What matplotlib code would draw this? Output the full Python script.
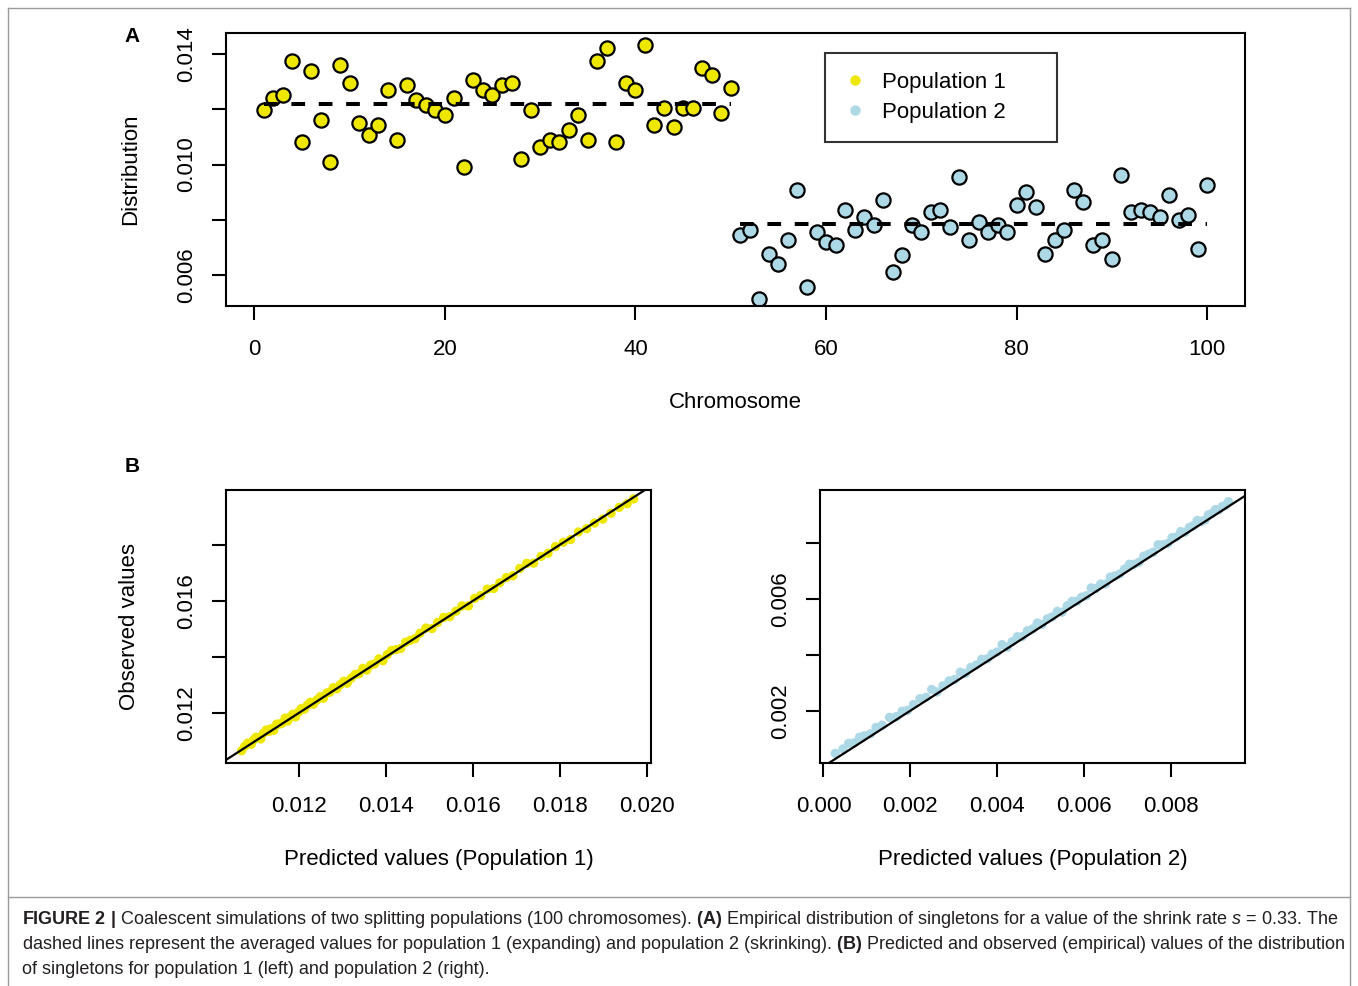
import numpy as np
import matplotlib.pyplot as plt
from matplotlib.lines import Line2D

plt.rcParams['font.family'] = ['Liberation Sans', 'DejaVu Sans']
plt.rcParams['mathtext.fontset'] = 'custom'
plt.rcParams['mathtext.rm'] = 'Liberation Sans'
plt.rcParams['mathtext.bf'] = 'Liberation Sans:bold'
plt.rcParams['mathtext.it'] = 'Liberation Sans:italic'

# --- panel A: singleton distribution per chromosome ---
chrom_pop1 = list(range(1, 51))
chrom_pop2 = list(range(51, 101))
dist_pop1 = [0.01197, 0.01240, 0.01252, 0.01376, 0.01080, 0.01340, 0.01161, 0.01008, 0.01359, 0.01296,
             0.01151, 0.01107, 0.01143, 0.01268, 0.01090, 0.01288, 0.01233, 0.01214, 0.01196, 0.01179,
             0.01242, 0.00991, 0.01305, 0.01268, 0.01252, 0.01288, 0.01296, 0.01019, 0.01197, 0.01062,
             0.01089, 0.01080, 0.01125, 0.01179, 0.01090, 0.01376, 0.01422, 0.01080, 0.01296, 0.01268,
             0.01431, 0.01143, 0.01206, 0.01135, 0.01206, 0.01206, 0.01351, 0.01323, 0.01188, 0.01278]
dist_pop2 = [0.007455, 0.007636, 0.005139, 0.006752, 0.006388, 0.007273, 0.009079, 0.005576, 0.007552, 0.007200,
             0.007091, 0.008352, 0.007636, 0.008109, 0.007818, 0.008715, 0.006120, 0.006727, 0.007818, 0.007552,
             0.008267, 0.008352, 0.007721, 0.009539, 0.007273, 0.007927, 0.007552, 0.007818, 0.007552, 0.008545,
             0.008994, 0.008448, 0.006752, 0.007273, 0.007636, 0.009079, 0.008630, 0.007091, 0.007273, 0.006570,
             0.009636, 0.008267, 0.008352, 0.008267, 0.008085, 0.008897, 0.008000, 0.008182, 0.006933, 0.009261]
mean_pop1 = 0.01219
mean_pop2 = 0.00784

# --- panel B: predicted vs observed ---
pred_pop1 = [0.01068, 0.01075, 0.01082, 0.01090, 0.01095, 0.01101, 0.01108, 0.01112, 0.01118, 0.01125,
             0.01131, 0.01137, 0.01142, 0.01149, 0.01155, 0.01161, 0.01168, 0.01174, 0.01180, 0.01186,
             0.01192, 0.01199, 0.01205, 0.01212, 0.01219, 0.01226, 0.01233, 0.01241, 0.01249, 0.01256,
             0.01264, 0.01271, 0.01279, 0.01287, 0.01295, 0.01303, 0.01311, 0.01320, 0.01329, 0.01338,
             0.01347, 0.01356, 0.01365, 0.01374, 0.01384, 0.01393, 0.01403, 0.01413, 0.01424, 0.01434,
             0.01445, 0.01456, 0.01467, 0.01478, 0.01492, 0.01506, 0.01519, 0.01533, 0.01547, 0.01561,
             0.01575, 0.01590, 0.01604, 0.01618, 0.01633, 0.01648, 0.01662, 0.01677, 0.01692, 0.01708,
             0.01724, 0.01740, 0.01757, 0.01773, 0.01790, 0.01808, 0.01825, 0.01843, 0.01862, 0.01880,
             0.01899, 0.01918, 0.01937, 0.01955, 0.01970]
obs_pop1 = [0.01065, 0.01081, 0.01092, 0.01088, 0.01103, 0.01113, 0.01112, 0.01107, 0.01127, 0.01139,
            0.01134, 0.01144, 0.01138, 0.01160, 0.01160, 0.01163, 0.01181, 0.01171, 0.01186, 0.01195,
            0.01186, 0.01203, 0.01215, 0.01213, 0.01227, 0.01238, 0.01231, 0.01246, 0.01258, 0.01252,
            0.01271, 0.01274, 0.01290, 0.01286, 0.01301, 0.01313, 0.01306, 0.01324, 0.01337, 0.01340,
            0.01359, 0.01353, 0.01371, 0.01375, 0.01393, 0.01386, 0.01408, 0.01423, 0.01426, 0.01430,
            0.01452, 0.01459, 0.01465, 0.01484, 0.01503, 0.01501, 0.01523, 0.01541, 0.01544, 0.01563,
            0.01582, 0.01582, 0.01609, 0.01619, 0.01642, 0.01644, 0.01665, 0.01683, 0.01690, 0.01716,
            0.01734, 0.01735, 0.01759, 0.01770, 0.01794, 0.01809, 0.01819, 0.01846, 0.01858, 0.01878,
            0.01892, 0.01913, 0.01934, 0.01947, 0.01964]
pred_pop2 = [0.00027, 0.00045, 0.00058, 0.00071, 0.00083, 0.00094, 0.00108, 0.00121, 0.00135, 0.00152,
             0.00168, 0.00181, 0.00193, 0.00207, 0.00222, 0.00236, 0.00249, 0.00261, 0.00275, 0.00289,
             0.00302, 0.00315, 0.00327, 0.00339, 0.00352, 0.00364, 0.00377, 0.00388, 0.00399, 0.00411,
             0.00423, 0.00434, 0.00446, 0.00457, 0.00469, 0.00481, 0.00492, 0.00503, 0.00515, 0.00526,
             0.00538, 0.00549, 0.00561, 0.00572, 0.00583, 0.00594, 0.00605, 0.00616, 0.00627, 0.00638,
             0.00649, 0.00660, 0.00671, 0.00682, 0.00693, 0.00704, 0.00715, 0.00726, 0.00737, 0.00748,
             0.00759, 0.00770, 0.00781, 0.00792, 0.00802, 0.00812, 0.00822, 0.00832, 0.00842, 0.00851,
             0.00860, 0.00869, 0.00878, 0.00886, 0.00894, 0.00902, 0.00910, 0.00918, 0.00925, 0.00932]
obs_pop2 = [0.00047, 0.00063, 0.00083, 0.00085, 0.00105, 0.00110, 0.00117, 0.00140, 0.00148, 0.00176,
            0.00179, 0.00198, 0.00201, 0.00222, 0.00243, 0.00248, 0.00276, 0.00267, 0.00289, 0.00307,
            0.00312, 0.00338, 0.00334, 0.00355, 0.00364, 0.00384, 0.00386, 0.00403, 0.00410, 0.00437,
            0.00428, 0.00447, 0.00465, 0.00465, 0.00486, 0.00493, 0.00514, 0.00509, 0.00529, 0.00536,
            0.00556, 0.00553, 0.00576, 0.00592, 0.00592, 0.00607, 0.00612, 0.00640, 0.00638, 0.00654,
            0.00654, 0.00679, 0.00683, 0.00690, 0.00708, 0.00725, 0.00725, 0.00732, 0.00754, 0.00761,
            0.00768, 0.00795, 0.00795, 0.00799, 0.00820, 0.00823, 0.00842, 0.00840, 0.00857, 0.00863,
            0.00882, 0.00878, 0.00884, 0.00902, 0.00907, 0.00921, 0.00920, 0.00932, 0.00936, 0.00949]

YELLOW = '#EEE800'
BLUE = '#ADD8E6'
W, H = 1358, 986

fig = plt.figure(figsize=(W / 100, H / 100), dpi=100)


def px_axes(left, top, right, bottom):
    return fig.add_axes([left / W, 1 - bottom / H, (right - left) / W, (bottom - top) / H])


def style_axes(ax, xticks, yticks, ylabels_at, xfmt, yfmt='{:.3f}'):
    for sp in ax.spines.values():
        sp.set_linewidth(1.5)
    ax.set_xticks(xticks)
    ax.set_xticklabels([xfmt.format(t) for t in xticks])
    ax.set_yticks(yticks)
    ax.set_yticklabels([yfmt.format(t) if t in ylabels_at else '' for t in yticks],
                       rotation=90, va='center')
    ax.tick_params(axis='both', length=10, width=1.5, labelsize=16)
    ax.tick_params(axis='x', pad=14)
    ax.tick_params(axis='y', pad=11)


# panel A
axA = px_axes(226, 33, 1245, 306)
axA.scatter(chrom_pop1, dist_pop1, s=105, color=YELLOW, edgecolor='black', linewidth=1.6, zorder=2)
axA.scatter(chrom_pop2, dist_pop2, s=105, color=BLUE, edgecolor='black', linewidth=1.6, zorder=2)
axA.plot([chrom_pop1[0], chrom_pop1[-1]], [mean_pop1, mean_pop1], color='black', lw=2.9,
         linestyle=(0, (3.4, 3.4)), zorder=3)
axA.plot([chrom_pop2[0], chrom_pop2[-1]], [mean_pop2, mean_pop2], color='black', lw=2.9,
         linestyle=(0, (3.4, 3.4)), zorder=3)
axA.set_xlim(-2.96, 103.96)
axA.set_ylim(0.00488, 0.01476)
style_axes(axA, [0, 20, 40, 60, 80, 100], [0.006, 0.008, 0.010, 0.012, 0.014],
           [0.006, 0.010, 0.014], '{:d}')
axA.set_xlabel('Chromosome', fontsize=16, va='center')
axA.xaxis.set_label_coords(0.5, -0.352)
axA.set_ylabel('Distribution', fontsize=16, va='center')
axA.yaxis.set_label_coords(-0.094, 0.5)

handles = [Line2D([], [], marker='o', linestyle='none', markersize=6.5, color=YELLOW),
           Line2D([], [], marker='o', linestyle='none', markersize=6.5, color=BLUE)]
leg = axA.legend(handles, ['Population 1', 'Population 2'], loc='upper left',
                 bbox_to_anchor=(0.5878, 0.9267, 0.2277, 0.0), mode='expand', borderaxespad=0,
                 fontsize=16, frameon=True, fancybox=False, edgecolor='black', borderpad=0.85,
                 labelspacing=0.4, handlelength=1.0, handletextpad=0.72)
leg.get_frame().set_linewidth(1.5)

# panel B, population 1
axB1 = px_axes(226, 490, 651, 763)
axB1.scatter(pred_pop1, obs_pop1, s=45, color=YELLOW, edgecolor='none', zorder=2)
axB1.axline((0.01, 0.01), slope=1, color='black', lw=1.6, zorder=3)
axB1.set_xlim(0.01032, 0.0201)
axB1.set_ylim(0.01021, 0.01996)
style_axes(axB1, [0.012, 0.014, 0.016, 0.018, 0.020], [0.012, 0.014, 0.016, 0.018],
           [0.012, 0.016], '{:.3f}')
axB1.set_xlabel('Predicted values (Population 1)', fontsize=16, va='center')
axB1.xaxis.set_label_coords(0.5, -0.355)
axB1.set_ylabel('Observed values', fontsize=16, va='center')
axB1.yaxis.set_label_coords(-0.226, 0.5)

# panel B, population 2
axB2 = px_axes(820, 490, 1245, 763)
axB2.scatter(pred_pop2, obs_pop2, s=45, color=BLUE, edgecolor='none', zorder=2)
axB2.axline((0.0, 0.0), slope=1, color='black', lw=1.6, zorder=3)
axB2.set_xlim(-0.00008, 0.0097)
axB2.set_ylim(0.000125, 0.00991)
style_axes(axB2, [0.0, 0.002, 0.004, 0.006, 0.008], [0.002, 0.004, 0.006, 0.008],
           [0.002, 0.006], '{:.3f}')
axB2.set_xlabel('Predicted values (Population 2)', fontsize=16, va='center')
axB2.xaxis.set_label_coords(0.5, -0.355)

# panel letters
fig.text(132 / W, 1 - 37 / H, 'A', fontsize=15, fontweight='bold', ha='center', va='center')
fig.text(132 / W, 1 - 467 / H, 'B', fontsize=15, fontweight='bold', ha='center', va='center')

# frame and caption
frame_col = '#9a9a9a'
for xs, ys in [([8, 1350], [8, 8]), ([8, 8], [8, 986]), ([1350, 1350], [8, 986]),
               ([8, 1350], [897, 897])]:
    fig.add_artist(Line2D([x / W for x in xs], [1 - y / H for y in ys], color=frame_col, lw=1.0))

caption = [
    r'$\mathbf{FIGURE\ 2\ |}$ Coalescent simulations of two splitting populations (100 chromosomes). '
    r'$\mathbf{(A)}$ Empirical distribution of singletons for a value of the shrink rate $\mathit{s}$ = 0.33. The',
    r'dashed lines represent the averaged values for population 1 (expanding) and population 2 (skrinking). '
    r'$\mathbf{(B)}$ Predicted and observed (empirical) values of the distribution',
    'of singletons for population 1 (left) and population 2 (right).',
]
for i, line in enumerate(caption):
    fig.text(22 / W, 1 - (919 + 25.5 * i) / H, line, fontsize=12.95, color='#231f20',
             ha='left', va='center')

fig.savefig('out.png', dpi=100)
